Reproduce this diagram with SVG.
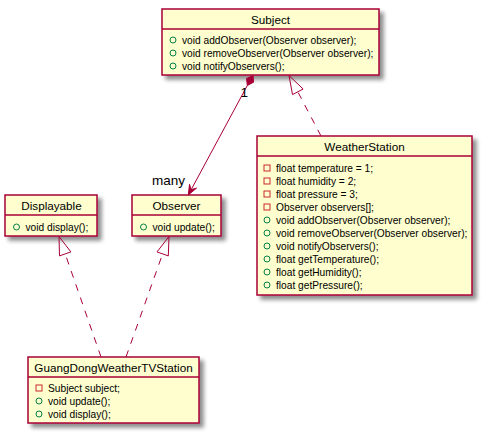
<svg xmlns="http://www.w3.org/2000/svg" width="483" height="433" viewBox="0 0 483 433">
<defs>
<filter id="sh" x="-10%" y="-10%" width="130%" height="130%">
<feGaussianBlur in="SourceAlpha" stdDeviation="2"/>
<feOffset dx="4" dy="4" result="b"/>
<feComponentTransfer><feFuncA type="linear" slope="0.45"/></feComponentTransfer>
<feMerge><feMergeNode/><feMergeNode in="SourceGraphic"/></feMerge>
</filter>
</defs>
<style>
.box{fill:#FEFECE;stroke:#A80036;stroke-width:1.5;filter:url(#sh)}
.sep{stroke:#A80036;stroke-width:1.5}
.t{font-family:"Liberation Sans",Arial,sans-serif;font-size:11.7px;fill:#000;text-anchor:middle}
.m{font-family:"Liberation Sans",Arial,sans-serif;font-size:10.2px;fill:#000}
.pub{fill:none;stroke:#038048;stroke-width:1}
.pri{fill:none;stroke:#C82930;stroke-width:1}
.ln{fill:none;stroke:#A80036;stroke-width:1}
.dash{stroke-dasharray:7,7}
.lbl{font-family:"Liberation Sans",Arial,sans-serif;font-size:13.5px;fill:#000}
</style>
<rect width="483" height="433" fill="#FFFFFF"/>

<g id="Subject">
<rect class="box" x="162" y="9" width="217" height="66"/>
<line class="sep" x1="162" y1="29" x2="379" y2="29"/>
<text class="t" x="270.5" y="23.5">Subject</text>
<circle class="pub" cx="173" cy="40" r="3"/>
<text class="m" x="182" y="43.5">void addObserver(Observer observer);</text>
<circle class="pub" cx="173" cy="53" r="3"/>
<text class="m" x="182" y="56.5">void removeObserver(Observer observer);</text>
<circle class="pub" cx="173" cy="66" r="3"/>
<text class="m" x="182" y="69.5">void notifyObservers();</text>
</g>

<g id="WeatherStation">
<rect class="box" x="257" y="136" width="215" height="159"/>
<line class="sep" x1="257" y1="156" x2="472" y2="156"/>
<text class="t" x="364.5" y="150.5">WeatherStation</text>
<rect class="pri" x="264" y="165" width="6" height="6"/>
<text class="m" x="276" y="171.5">float temperature = 1;</text>
<rect class="pri" x="264" y="178" width="6" height="6"/>
<text class="m" x="276" y="184.5">float humidity = 2;</text>
<rect class="pri" x="264" y="191" width="6" height="6"/>
<text class="m" x="276" y="197.5">float pressure = 3;</text>
<rect class="pri" x="264" y="204" width="6" height="6"/>
<text class="m" x="276" y="210.5">Observer observers[];</text>
<circle class="pub" cx="267" cy="220" r="3"/>
<text class="m" x="276" y="223.5">void addObserver(Observer observer);</text>
<circle class="pub" cx="267" cy="233" r="3"/>
<text class="m" x="276" y="236.5">void removeObserver(Observer observer);</text>
<circle class="pub" cx="267" cy="246" r="3"/>
<text class="m" x="276" y="249.5">void notifyObservers();</text>
<circle class="pub" cx="267" cy="259" r="3"/>
<text class="m" x="276" y="262.5">float getTemperature();</text>
<circle class="pub" cx="267" cy="272" r="3"/>
<text class="m" x="276" y="275.5">float getHumidity();</text>
<circle class="pub" cx="267" cy="285" r="3"/>
<text class="m" x="276" y="288.5">float getPressure();</text>
</g>

<g id="Displayable">
<rect class="box" x="5" y="195" width="92" height="41"/>
<line class="sep" x1="5" y1="215" x2="97" y2="215"/>
<text class="t" x="51.5" y="209.5">Displayable</text>
<circle class="pub" cx="16.5" cy="227" r="3"/>
<text class="m" x="25.5" y="230.5">void display();</text>
</g>

<g id="Observer">
<rect class="box" x="132" y="195" width="89" height="41"/>
<line class="sep" x1="132" y1="215" x2="221" y2="215"/>
<text class="t" x="176.5" y="209.5">Observer</text>
<circle class="pub" cx="143.5" cy="227" r="3"/>
<text class="m" x="152.5" y="230.5">void update();</text>
</g>

<g id="GuangDongWeatherTVStation">
<rect class="box" x="28" y="357" width="171" height="66"/>
<line class="sep" x1="28" y1="377" x2="199" y2="377"/>
<text class="t" x="113.5" y="371.5">GuangDongWeatherTVStation</text>
<rect class="pri" x="36" y="385" width="6" height="6"/>
<text class="m" x="48" y="391.5">Subject subject;</text>
<circle class="pub" cx="39" cy="401" r="3"/>
<text class="m" x="48" y="404.5">void update();</text>
<circle class="pub" cx="39" cy="414" r="3"/>
<text class="m" x="48" y="417.5">void display();</text>
</g>

<g id="connectors">
<g id="Subject-Observer">
<line class="ln" x1="247.3" y1="85.5" x2="188.3" y2="195"/>
<polygon points="253,75.5 253.6,82.2 247.3,85.5 246.6,78.4" fill="#A80036" stroke="#A80036" stroke-width="1"/>
<polygon points="188.3,195 196.5,188.1 191.1,189.7 189.5,184.3" fill="#A80036" stroke="#A80036" stroke-width="1"/>
<text class="lbl" x="240.5" y="96.5">1</text>
<text class="lbl" x="152" y="184.5">many</text>
</g>
<g id="WeatherStation-Subject">
<line class="ln dash" x1="321" y1="136" x2="297.8" y2="91.8"/>
<polygon class="ln" points="289,75.5 303.1,89 292.5,94.6"/>
</g>
<g id="GuangDong-Displayable">
<line class="ln dash" x1="101" y1="357" x2="65.2" y2="253.9"/>
<polygon class="ln" points="59,236.5 70.9,251.9 59.5,255.9"/>
</g>
<g id="GuangDong-Observer">
<line class="ln dash" x1="126" y1="357" x2="162.6" y2="253.9"/>
<polygon class="ln" points="169,236.5 168.3,255.9 157,251.9"/>
</g>
</g>
</svg>
